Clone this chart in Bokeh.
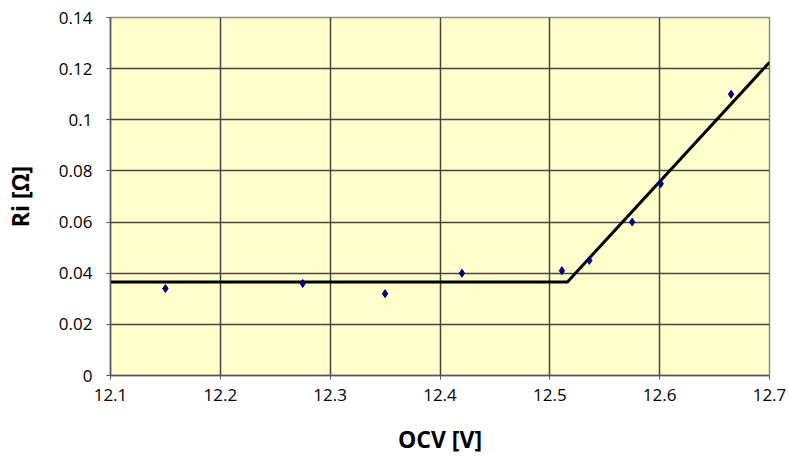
from bokeh.plotting import figure
from bokeh.models import FixedTicker, Range1d
from bokeh.embed import file_html
from bokeh.resources import INLINE

# Measured points
ocv = [12.150, 12.275, 12.350, 12.420, 12.511, 12.536, 12.575, 12.601, 12.665]
ri = [0.034, 0.036, 0.032, 0.040, 0.041, 0.045, 0.060, 0.075, 0.110]

# Piecewise fit line
fit_x = [12.1, 12.516, 12.7]
fit_y = [0.0366, 0.0366, 0.1225]

x_ticks = [12.1, 12.2, 12.3, 12.4, 12.5, 12.6, 12.7]
x_labels = ["12.1", "12.2", "12.3", "12.4", "12.5", "12.6", "12.7"]
y_ticks = [0, 0.02, 0.04, 0.06, 0.08, 0.1, 0.12, 0.14]
y_labels = ["0", "0.02", "0.04", "0.06", "0.08", "0.1", "0.12", "0.14"]

p = figure(width=789, height=457, output_backend="svg", toolbar_location=None,
           x_range=Range1d(12.1, 12.7), y_range=Range1d(0, 0.14),
           min_border_left=109, min_border_right=20, min_border_top=17,
           min_border_bottom=82)

p.background_fill_color = "#FFFFCC"
p.border_fill_color = "white"
p.outline_line_color = "#8a8a8a"
p.outline_line_width = 1.5

for ax in (p.xaxis, p.yaxis):
    ax.major_label_text_font = "Open Sans"
    ax.major_label_text_font_size = "17px"
    ax.major_label_text_color = "black"
    ax.axis_label_text_font = "Open Sans"
    ax.axis_label_text_font_style = "bold"
    ax.axis_label_text_font_size = "23px"
    ax.axis_label_text_color = "black"
    ax.axis_line_color = "#555555"
    ax.axis_line_width = 1.5
    ax.major_tick_line_color = "#555555"
    ax.major_tick_out = 4
    ax.major_tick_in = 0
    ax.minor_tick_line_color = None

p.xaxis.ticker = FixedTicker(ticks=x_ticks)
p.yaxis.ticker = FixedTicker(ticks=y_ticks)
p.xaxis.major_label_overrides = {t: l for t, l in zip(x_ticks, x_labels)}
p.yaxis.major_label_overrides = {t: l for t, l in zip(y_ticks, y_labels)}
p.xaxis.axis_label = "OCV [V]"
p.yaxis.axis_label = "Ri [Ω]"
p.xaxis.major_label_standoff = 9
p.yaxis.major_label_standoff = 14
p.xaxis.axis_label_standoff = 19
p.yaxis.axis_label_standoff = 20

p.xgrid.ticker = FixedTicker(ticks=x_ticks)
p.ygrid.ticker = FixedTicker(ticks=y_ticks)
for g in (p.xgrid, p.ygrid):
    g.grid_line_color = "#444444"
    g.grid_line_width = 1.5

p.line(fit_x, fit_y, line_color="black", line_width=3)
p.scatter(ocv, ri, marker="diamond", size=8, fill_color="#000080", line_color="#000080")

open("out.html", "w").write(file_html(p, INLINE))
